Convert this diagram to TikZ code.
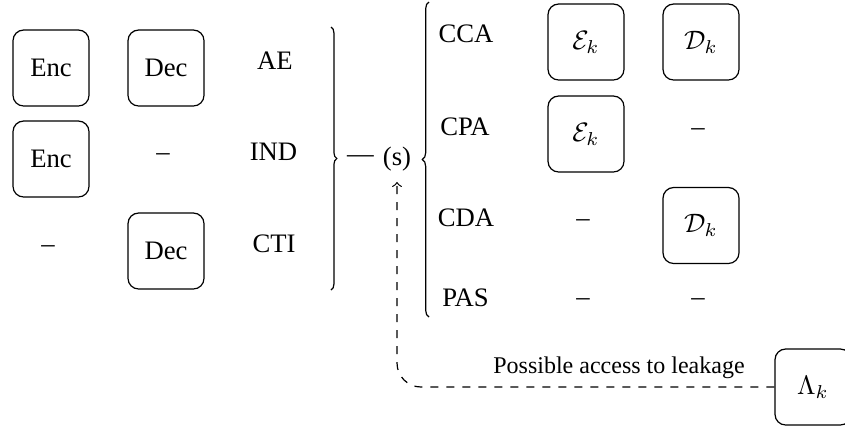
\documentclass[tikz,border=0pt]{standalone}
\usepackage[no-math]{fontspec}
\setmainfont{Liberation Serif}
\usetikzlibrary{decorations.pathreplacing}
\begin{document}
\begin{tikzpicture}[x=0.375pt,y=-0.375pt,
  box/.style={draw, rounded corners=4pt, minimum width=28.5pt, minimum height=28.5pt, inner sep=0pt, line width=0.45pt},
  lbl/.style={anchor=base, inner sep=0pt},
  brc/.style={decorate, decoration={brace, amplitude=#1}, line width=0.45pt},
  leak/.style={dashed, line width=0.45pt, rounded corners=9pt, ->}]
\clip (0,0) rectangle (845,427);
% left block
\node[box] (enc1) at (51,68) {Enc};
\node[box] (dec1) at (166,68) {Dec};
\node[lbl] (ae) at (275,69) {AE};
\node[box] (enc2) at (51,159) {Enc};
\node[lbl] (dashA) at (163,160) {--};
\node[lbl] (ind) at (273.5,160) {IND};
\node[lbl] (dashB) at (48,252) {--};
\node[box] (dec2) at (166,251) {Dec};
\node[lbl] (cti) at (274,252) {CTI};
% braces and middle
\draw[brc=2.2pt] (331,27) -- (331,290);
\node[lbl] (em) at (360.5,162) {---};
\node[lbl] (s) at (397,165) {(s)};
\draw[brc=2.5pt] (429,317) -- (429,2);
% right block
\node[lbl] (cca) at (466,42) {CCA};
\node[box] (e1) at (586,42) {$\mathcal{E}_k$};
\node[box] (d1) at (701,42) {$\mathcal{D}_k$};
\node[lbl] (cpa) at (465,135) {CPA};
\node[box] (e2) at (586,134) {$\mathcal{E}_k$};
\node[lbl] (dashC) at (698,135) {--};
\node[lbl] (cda) at (466,226) {CDA};
\node[lbl] (dashD) at (583,226) {--};
\node[box] (d2) at (701,225.5) {$\mathcal{D}_k$};
\node[lbl] (pas) at (465.5,306) {PAS};
\node[lbl] (dashE) at (583,305) {--};
\node[lbl] (dashF) at (698,305) {--};
% leakage
\node[box] (lam) at (813,387) {$\Lambda_k$};
\node[lbl, font=\small] (pl) at (619,373) {Possible access to leakage};
\draw[leak] (lam.west) -| ([yshift=-4pt]s.south);
\end{tikzpicture}
\end{document}
